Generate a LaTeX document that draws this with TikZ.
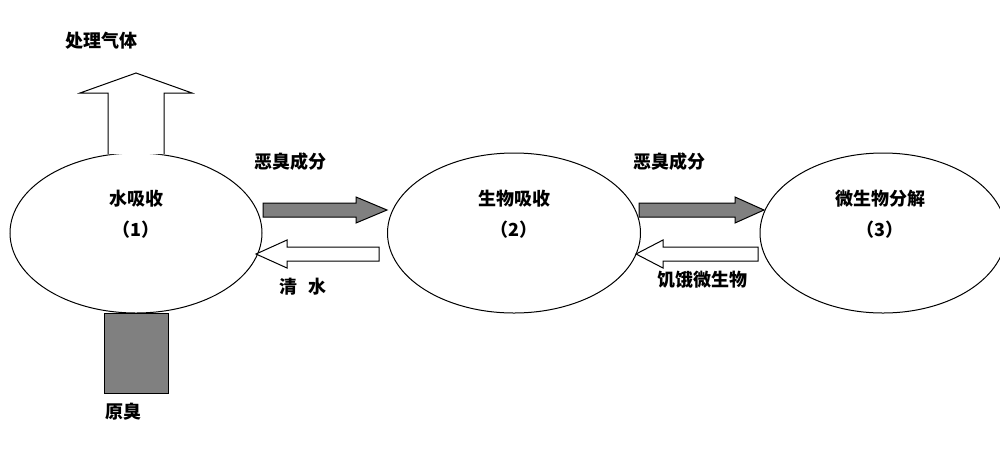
\documentclass[tikz,border=0pt]{standalone}
\usepackage{fontspec}
\setmainfont{Noto Sans CJK SC}
\usetikzlibrary{shapes.geometric}
\definecolor{arrgray}{HTML}{808080}
\tikzset{
  x=0.75pt, y=-0.75pt,
  every node/.style={font=\fontsize{13.5pt}{16pt}\selectfont\bfseries, inner sep=0pt},
  tank/.style={ellipse, draw, line width=0.75pt, inner sep=0pt},
  blk/.style={draw, line width=0.75pt, line join=miter},
  grayblk/.style={blk, fill=arrgray},
  lbl/.style={anchor=center}
}
\begin{document}
\begin{tikzpicture}
\useasboundingbox (0,0) rectangle (1000,455);
% ellipses
\node[tank, minimum width=252*0.75pt, minimum height=160*0.75pt] (e1) at (136,233) {};
\node[tank, minimum width=253*0.75pt, minimum height=160*0.75pt] (e2) at (514,233) {};
\node[tank, minimum width=246*0.75pt, minimum height=160*0.75pt] (e3) at (883,233) {};
% ellipse labels
\node[lbl] (t1) at (136,199) {水吸收};
\node[lbl] (n1) at (136,230) {（1）};
\node[lbl] (t2) at (514,199) {生物吸收};
\node[lbl] (n2) at (514,230) {（2）};
\node[lbl] (t3) at (880,199) {微生物分解};
\node[lbl] (n3) at (880,230) {（3）};
% up hollow arrow
\draw[blk, fill=white] (108,154) -- (108,93) -- (80,93) -- (136,73) -- (192,93) -- (164,93) -- (164,154);
\node[lbl] (gas) at (101,41) {处理气体};
% bottom gray block
\draw[grayblk] (104,313) rectangle (168,393);
\node[lbl] (raw) at (123,412) {原臭};
% gray arrow 1
\draw[grayblk] (263,203) -- (356,203) -- (356,197) -- (387,210) -- (356,223) -- (356,217) -- (263,217) -- cycle;
% hollow arrow 1
\draw[blk, fill=white] (379,247) -- (287,247) -- (287,240) -- (256,254) -- (287,268) -- (287,261) -- (379,261) -- cycle;
\node[lbl] (m1) at (290,162) {恶臭成分};
\node[lbl] (w1) at (303,287) {清\hspace{0.6em}水};
% gray arrow 2
\draw[grayblk] (639,203) -- (735,203) -- (735,197) -- (764,210) -- (735,223) -- (735,217) -- (639,217) -- cycle;
% hollow arrow 2
\draw[blk, fill=white] (758,247) -- (663,247) -- (663,240) -- (636,254) -- (663,268) -- (663,261) -- (758,261) -- cycle;
\node[lbl] (m2) at (669,162) {恶臭成分};
\node[lbl] (h2) at (702,280) {饥饿微生物};
\end{tikzpicture}
\end{document}
